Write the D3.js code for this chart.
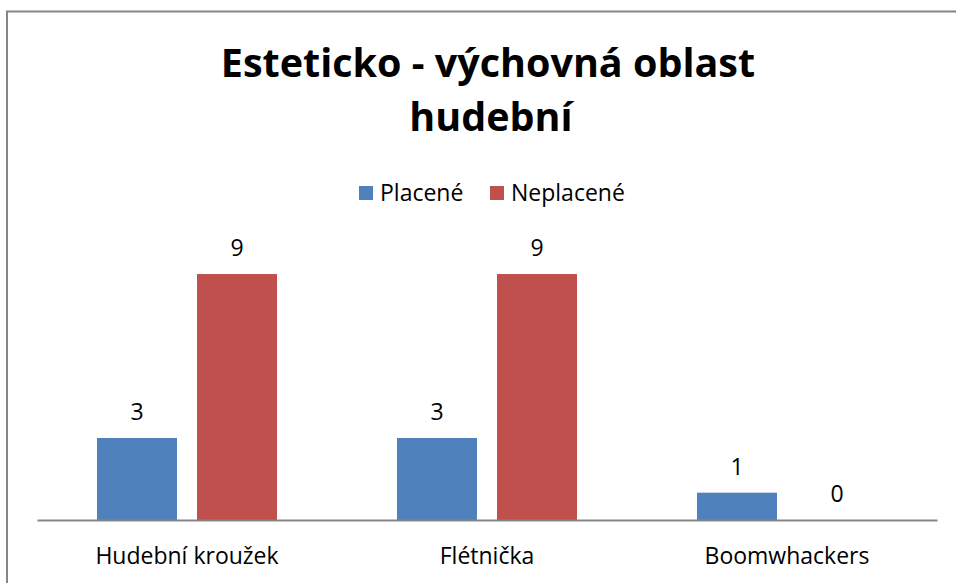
<!DOCTYPE html>
<html>
<head>
<meta charset="utf-8">
<script src="https://cdn.jsdelivr.net/npm/d3@7"></script>
<style>
  html, body { margin: 0; padding: 0; background: #fff; }
  svg { display: block; }
  text { font-family: "Open Sans", sans-serif; fill: #000; }
</style>
</head>
<body>
<svg id="chart" width="956" height="583"></svg>
<script>
const titleLines = ["Esteticko - výchovná oblast", "hudební"];
const categories = ["Hudební kroužek", "Flétnička", "Boomwhackers"];
const seriesNames = ["Placené", "Neplacené"];
const placene = [3, 3, 1];
const neplacene = [9, 9, 0];
const colors = ["#4F81BD", "#C0504D"];

const svg = d3.select("#chart");
const W = 956, H = 583;

// outer border
svg.append("rect")
  .attr("x", 7).attr("y", 11.5)
  .attr("width", W + 20).attr("height", H + 20)
  .attr("fill", "#fff").attr("stroke", "#868686").attr("stroke-width", 2);

// title
svg.append("text")
  .attr("x", 488).attr("y", 77)
  .attr("text-anchor", "middle")
  .attr("font-weight", "bold").attr("font-size", 39.5)
  .text(titleLines[0]);
svg.append("text")
  .attr("x", 491).attr("y", 131)
  .attr("text-anchor", "middle")
  .attr("font-weight", "bold").attr("font-size", 39.5)
  .text(titleLines[1]);

// legend
const legendX = [359, 490];
seriesNames.forEach((s, i) => {
  svg.append("rect").attr("x", legendX[i]).attr("y", 186).attr("width", 14).attr("height", 14).attr("fill", colors[i]);
  svg.append("text").attr("x", legendX[i] + 21).attr("y", 201).attr("font-size", 23).text(s);
});

const x0 = d3.scaleBand().domain(categories).range([37, 937]).paddingInner(0).paddingOuter(0);
const x1 = d3.scaleBand().domain(seriesNames).range([60, 240]).paddingInner(0.2).paddingOuter(0);
const y = d3.scaleLinear().domain([0, 10]).range([520, 246.7]);

const data = categories.map((c, i) => ({ cat: c, vals: [placene[i], neplacene[i]] }));

const groups = svg.selectAll("g.cat").data(data).join("g")
  .attr("class", "cat")
  .attr("transform", d => `translate(${x0(d.cat)},0)`);

groups.selectAll("rect").data(d => d.vals.map((v, i) => ({ v, s: seriesNames[i], i })))
  .join("rect")
  .attr("x", d => x1(d.s))
  .attr("y", d => y(d.v))
  .attr("width", x1.bandwidth())
  .attr("height", d => y(0) - y(d.v))
  .attr("fill", d => colors[d.i]);

groups.selectAll("text.val").data(d => d.vals.map((v, i) => ({ v, s: seriesNames[i], i })))
  .join("text")
  .attr("class", "val")
  .attr("x", d => x1(d.s) + x1.bandwidth() / 2)
  .attr("y", d => y(d.v) - 18)
  .attr("text-anchor", "middle")
  .attr("font-size", 23)
  .text(d => d.v);

// baseline axis
const axis = d3.axisBottom(x0).tickSize(0).tickPadding(0);
const ax = svg.append("g").attr("transform", "translate(0,520)").call(axis);
ax.select(".domain").attr("stroke", "#868686").attr("stroke-width", 2);
ax.selectAll(".tick text")
  .attr("y", 44).attr("dy", null)
  .attr("font-size", 23).attr("font-family", "Open Sans, sans-serif").attr("fill", "#000");
</script>
</body>
</html>
